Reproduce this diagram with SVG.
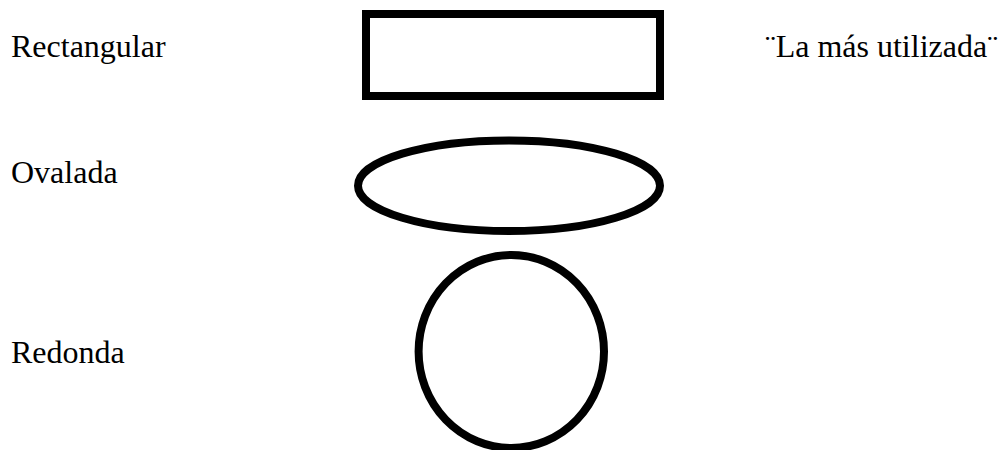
<svg xmlns="http://www.w3.org/2000/svg" width="1001" height="450" viewBox="0 0 1001 450">
<style>
.lbl{font-family:"Liberation Serif","Times New Roman",serif;font-size:32px;fill:#000}
.shp{fill:#fff;stroke:#000;stroke-width:8}
</style>
<rect width="1001" height="450" fill="#fff"/>
<g id="rect-node">
<rect class="shp" x="366" y="14" width="294" height="82"/>
</g>
<g id="oval-node">
<ellipse class="shp" cx="509" cy="185.7" rx="151" ry="45.3"/>
</g>
<g id="round-node">
<ellipse class="shp" cx="511.3" cy="351.5" rx="92.7" ry="96.5"/>
</g>
<g id="labels">
<text class="lbl" x="11" y="56.7">Rectangular</text>
<text class="lbl" x="11" y="182.7">Ovalada</text>
<text class="lbl" x="11" y="363">Redonda</text>
<text class="lbl" x="765" y="56.7">¨La más utilizada¨</text>
</g>
<g id="connectors"/>
</svg>
